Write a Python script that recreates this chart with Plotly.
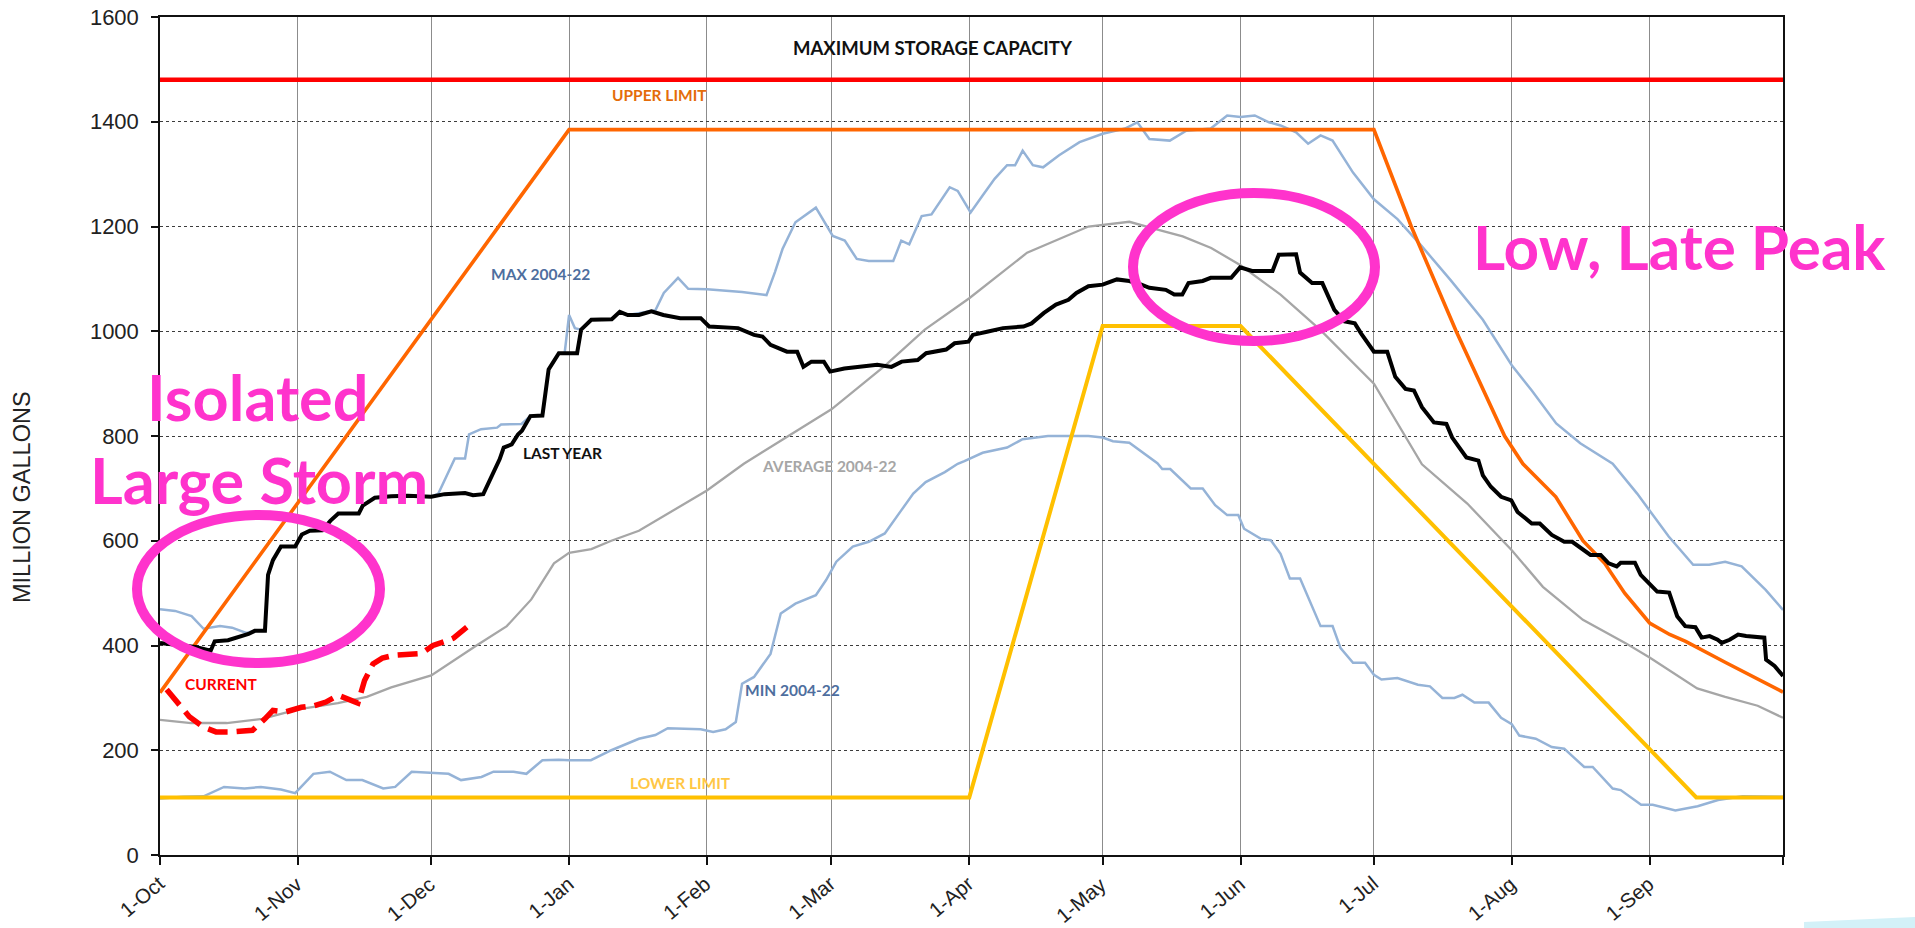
import plotly.graph_objects as go
from datetime import datetime, timedelta

# ---------------------------------------------------------------- data
WATER_YEAR_START = "2022-10-01"
WATER_YEAR_END = "2023-10-01"

tick_dates = ["2022-10-01", "2022-11-01", "2022-12-01", "2023-01-01", "2023-02-01",
              "2023-03-01", "2023-04-01", "2023-05-01", "2023-06-01", "2023-07-01",
              "2023-08-01", "2023-09-01", "2023-10-01"]
tick_labels = ["1-Oct", "1-Nov", "1-Dec", "1-Jan", "1-Feb", "1-Mar", "1-Apr",
               "1-May", "1-Jun", "1-Jul", "1-Aug", "1-Sep", ""]
y_ticks = [0, 200, 400, 600, 800, 1000, 1200, 1400, 1600]

# all "days" are days since 1-Oct
capacity_days = [0, 365]
capacity_vals = [1480, 1480]

upper_days = [0, 92, 273, 281.4, 291.5, 302.4, 306.5, 313.9, 320, 324.9, 329.4, 335,
              339.5, 343.1, 352.2, 359.6, 365]
upper_vals = [310, 1385, 1385, 1200, 1000, 800, 747, 684, 600, 557, 500, 443,
              421, 408, 367, 335, 311]

lower_days = [0, 182, 212, 243, 345.5, 365]
lower_vals = [110, 110, 1010, 1010, 110, 110]

avg_days = [0, 7, 15, 23, 31, 40, 46.5, 52, 61, 65, 71, 78, 83.5, 88.6, 92, 97, 101.5,
            107.7, 123, 131.3, 142, 151, 163, 172, 182, 195, 208.8, 212, 218, 223.5,
            230, 236.4, 243, 252, 261, 273, 283.8, 294, 304, 311, 320, 329.5, 335,
            345.7, 352, 359.3, 365]
avg_vals = [258, 252, 252, 260, 278, 290, 302, 320, 343, 366, 399, 437, 488, 557, 577,
            584, 600, 619, 696, 747, 803, 851, 934, 1003, 1063, 1150, 1200, 1203, 1209,
            1196, 1181, 1159, 1126, 1070, 1002, 900, 746, 671, 582, 512, 449, 405, 377,
            318, 302, 285, 262]

max_days = [0, 3.4, 7.1, 9.8, 13.5, 16.2, 19.4, 21.3, 23.6, 24.3,
            25.4, 27.2, 30.4, 31.9, 33.7, 36.5, 38.3, 40.1, 44.7, 45.6,
            48.3, 52, 55.7, 61, 62.6, 65.8, 66.3, 68.6, 69.5, 72.2,
            75.8, 76.7, 81.3, 83.3, 86, 87.4, 89.7, 91, 92, 93.3,
            94.7, 97, 101.6, 103.4, 105.2, 108, 111.4, 113.3, 116.5, 118.8,
            123, 130.9, 136.4, 138.3, 140, 142.9, 147.5, 151.3, 154, 156.7,
            159.4, 164.9, 166.7, 168.5, 171.3, 173.5, 177.6, 179.4, 182.3, 185,
            187.7, 190.5, 192.3, 194, 196.3, 198.6, 202.2, 206.8, 212, 217,
            219.8, 222.5, 227.1, 230.8, 236.3, 240, 243, 246.2, 249.4, 252,
            255.5, 258.2, 261, 263.7, 268.3, 273, 278.3, 283.8, 290.2, 297.5,
            304, 308.5, 314, 319.4, 326.7, 332.2, 335, 339.3, 344.8, 348.4,
            352, 355.7, 361.1, 365]
max_vals = [469, 466, 456, 432, 437, 434, 424, 428, 428, 535,
            563, 589, 589, 612, 619, 620, 638, 652, 652, 667,
            682, 685, 686, 684, 690, 748, 757, 757, 803, 813,
            816, 822, 823, 838, 839, 927, 958, 958, 1031, 1006,
            1003, 1022, 1023, 1037, 1031, 1035, 1040, 1073, 1102, 1081,
            1080, 1075, 1069, 1113, 1157, 1208, 1236, 1182, 1173, 1138,
            1134, 1134, 1173, 1166, 1220, 1223, 1275, 1268, 1227, 1259,
            1291, 1317, 1317, 1345, 1317, 1313, 1336, 1361, 1377, 1387,
            1399, 1367, 1364, 1383, 1387, 1412, 1409, 1412, 1399, 1393,
            1380, 1358, 1374, 1364, 1303, 1252, 1214, 1162, 1098, 1022,
            935, 887, 824, 786, 747, 690, 658, 608, 554, 554,
            560, 551, 506, 468]

min_days = [0, 5.2, 9.8, 14.4, 19, 22.7, 27.2, 30.4, 34.5, 38.2,
            41.9, 45.5, 50.2, 52.9, 56.6, 61, 64.9, 67.7, 72.3, 75,
            79.5, 82.4, 86, 89.7, 92, 96.9, 101.5, 107.7, 111.4, 114.2,
            121.6, 124.4, 127.2, 129.5, 130.9, 133.6, 137.3, 139.6, 142.9, 147.5,
            149.8, 152.1, 155.8, 159.4, 163, 166.7, 169.4, 172.2, 176.5, 179.4,
            180.9, 185, 190.5, 194, 199.7, 205, 208.8, 212, 214.3, 218,
            221.7, 224.3, 225.4, 227.2, 231.8, 234.5, 237.3, 240, 242.5, 243.8,
            247.5, 249.8, 252, 254.1, 256.4, 261, 263.7, 265.5, 268.3, 271,
            273, 274.7, 278.3, 282.9, 285.6, 288.4, 291.1, 292.9, 295.6, 298.8,
            301.6, 304, 305.7, 309.4, 313, 315.8, 320.3, 322.2, 326.7, 328.5,
            333.1, 335.7, 340.8, 345.8, 350.4, 355.9, 365]
min_vals = [108, 111, 112, 130, 127, 130, 125, 118, 155, 159,
            143, 143, 127, 130, 159, 157, 155, 143, 149, 159,
            159, 155, 181, 182, 181, 181, 200, 222, 229, 242,
            240, 235, 240, 254, 327, 340, 384, 461, 480, 496,
            525, 560, 589, 598, 614, 658, 690, 712, 731, 747,
            752, 768, 778, 794, 800, 800, 800, 797, 790, 787,
            765, 748, 737, 737, 700, 700, 668, 649, 649, 623,
            604, 601, 575, 528, 528, 437, 437, 395, 367, 367,
            344, 335, 338, 325, 322, 300, 300, 306, 291, 291,
            262, 250, 228, 222, 206, 203, 168, 168, 127, 124,
            96, 96, 85, 93, 105, 112, 111]

last_year_days = [0, 4.3, 8, 11.4, 12.3, 15.3, 17.2, 19.9, 21.3, 23.6,
                  24.3, 25.4, 27.2, 30.4, 31.9, 33.7, 36.5, 38.3, 40.1, 44.7,
                  45.6, 48.3, 52, 55.7, 61, 64, 68.6, 70.4, 72.7, 74.1,
                  75.9, 76.4, 77.3, 79.1, 80.5, 81.4, 83.3, 86, 87.4, 89.7,
                  93.8, 94.7, 97, 101.6, 103.4, 105.2, 107.7, 110.5, 113.2, 117,
                  121.6, 123.5, 130, 133.6, 135.5, 137.3, 141, 143.3, 144.7, 146.5,
                  149.3, 150.7, 153.9, 158.5, 161.3, 164.5, 166.8, 170.4, 172.3, 176.8,
                  178.7, 181.8, 182.8, 186, 189.6, 194.2, 196, 198.8, 201.5, 204.3,
                  206.1, 208.8, 212, 215.2, 218, 220.7, 222.5, 226.2, 228.1, 229.9,
                  231.3, 234.5, 236.3, 240.9, 242.9, 245.6, 250.2, 251.6, 255.5, 256.4,
                  259.1, 261.4, 264.1, 266.4, 268.7, 270.1, 273, 276, 277.8, 280.1,
                  282, 283.8, 286.5, 289.3, 290.6, 293.8, 296.5, 297.5, 299.3, 301.6,
                  303.9, 305.3, 308.5, 310.3, 313, 315.8, 317.6, 321.7, 324, 325.8,
                  327.6, 328.5, 331.7, 333, 335.3, 336.7, 339.4, 341.2, 343, 345.3,
                  346.7, 348.5, 350.3, 351.2, 353, 354.9, 356.7, 360.8, 361.2, 363.1,
                  365]
last_year_vals = [405, 400, 397, 390, 408, 410, 415, 422, 428, 428,
                  535, 563, 589, 589, 612, 619, 620, 638, 652, 652,
                  667, 682, 685, 686, 684, 689, 691, 687, 689, 715,
                  747, 756, 778, 784, 803, 810, 838, 839, 927, 958,
                  958, 1003, 1022, 1023, 1037, 1031, 1031, 1038, 1031, 1025,
                  1025, 1009, 1006, 993, 990, 974, 961, 961, 932, 942,
                  942, 923, 929, 934, 936, 932, 942, 945, 958, 965,
                  977, 980, 993, 999, 1006, 1009, 1015, 1035, 1051, 1060,
                  1073, 1086, 1089, 1099, 1096, 1089, 1083, 1079, 1070, 1070,
                  1092, 1096, 1102, 1102, 1122, 1115, 1115, 1146, 1147, 1112,
                  1092, 1092, 1041, 1019, 1015, 996, 961, 961, 913, 890,
                  887, 855, 826, 823, 797, 759, 753, 725, 703, 684,
                  677, 655, 633, 633, 611, 598, 598, 573, 573, 557,
                  551, 558, 558, 535, 516, 503, 501, 456, 437, 435,
                  415, 418, 411, 405, 411, 421, 418, 415, 373, 361,
                  342]

current_days = [1.5, 4.3, 6.6, 9.8, 12.6, 16.2, 20.8, 23.6, 25.4, 28.2, 31.8, 34.6,
                37.3, 40.1, 44.5, 46, 47.9, 50, 52.4, 58.8, 61.4, 64.9, 66, 69]
current_vals = [316, 289, 264, 244, 235, 235, 238, 260, 276, 273, 282, 285,
                292, 305, 290, 333, 365, 376, 381, 385, 400, 410, 414, 435]

for a, b in [(upper_days, upper_vals), (lower_days, lower_vals), (avg_days, avg_vals),
             (max_days, max_vals), (min_days, min_vals),
             (last_year_days, last_year_vals), (current_days, current_vals)]:
    assert len(a) == len(b), (len(a), len(b))

# ---------------------------------------------------------------- helpers
START = datetime.fromisoformat(WATER_YEAR_START)


def as_dates(days):
    return [START + timedelta(days=d) for d in days]


# plot-area pixel box (for annotation placement only)
W, H = 1915, 928
ML, MR, MT, MB = 160, 132, 17, 73
PL, PR, PT, PB = ML, W - MR, MT, H - MB


def px(x, y):
    return (x - PL) / (PR - PL), (PB - y) / (PB - PT)


LABEL_FONT = "Lato, 'Open Sans', sans-serif"
AXIS_FONT = "'Liberation Sans', Arial, sans-serif"
PINK = "#FF33CC"

fig = go.Figure()


def line(days, vals, color, width, name, dash=None):
    fig.add_trace(go.Scatter(
        x=as_dates(days), y=vals, mode="lines", name=name, hoverinfo="skip",
        line=dict(color=color, width=width, dash=dash)))


line(min_days, min_vals, "#95B3D7", 2.5, "MIN 2004-22")
line(max_days, max_vals, "#95B3D7", 2.5, "MAX 2004-22")
line(avg_days, avg_vals, "#A6A6A6", 2.3, "AVERAGE 2004-22")
line(lower_days, lower_vals, "#FFC000", 4, "LOWER LIMIT")
line(upper_days, upper_vals, "#FF6600", 3.6, "UPPER LIMIT")
line(capacity_days, capacity_vals, "#FF0000", 4.5, "MAXIMUM STORAGE CAPACITY")
line(last_year_days, last_year_vals, "#000000", 4, "LAST YEAR")
line(current_days, current_vals, "#FF0000", 5.5, "CURRENT", dash="20px,9px")

annotations = []


def label(text, x, y, color, size, family=LABEL_FONT, angle=0, weight=700):
    ax, ay = px(x, y)
    annotations.append(dict(
        text=text, x=ax, y=ay, xref="paper", yref="paper", showarrow=False,
        xanchor="center", yanchor="middle", textangle=angle,
        font=dict(family=family, size=size, color=color, weight=weight)))


label("MAXIMUM STORAGE CAPACITY", 933, 48, "#111111", 18.5)
label("UPPER LIMIT", 659, 95, "#E46C0A", 15.5)
label("MAX 2004-22", 540, 274, "#4E6E9E", 15.5)
label("LAST YEAR", 562, 453, "#111111", 15.5)
label("AVERAGE 2004-22", 829, 466, "#A6A6A6", 15.5)
label("CURRENT", 221, 684, "#FF0000", 15.5)
label("MIN 2004-22", 792, 690, "#4E6E9E", 15.5)
label("LOWER LIMIT", 680, 783, "#FFC745", 15.5)
label("Isolated", 258, 396, PINK, 63)
label("Large Storm", 259, 479, PINK, 63)
label("Low, Late Peak", 1679, 246, PINK, 62)
label("MILLION GALLONS", 22, 497, "#222222", 23.5, family=AXIS_FONT, angle=-90, weight=400)

# rotated month labels under the x axis (end of each label just right of its tick)
for d, t in zip(tick_dates, tick_labels):
    if not t:
        continue
    annotations.append(dict(
        text=t, x=d, y=0, xref="x", yref="paper", showarrow=False,
        xanchor="right", yanchor="top", textangle=-40, xshift=11, yshift=-14,
        font=dict(family=AXIS_FONT, size=20.5, color="#222222")))

shapes = []
for (x0, y0, x1, y1) in [(137, 515, 380, 663), (1133, 193, 1375, 341)]:
    px0, py1 = px(x0, y0)
    px1, py0 = px(x1, y1)
    shapes.append(dict(type="circle", xref="paper", yref="paper",
                       x0=px0, x1=px1, y0=py0, y1=py1,
                       line=dict(color=PINK, width=10), layer="above"))

# faint light-blue sliver at the lower right corner of the slide
sx0, sy0 = px(1804, 922)
sx1, sy1 = px(1915, 917)
sx2, sy2 = px(1915, 928)
sx3, sy3 = px(1804, 928)
shapes.append(dict(type="path", xref="paper", yref="paper",
                   path=f"M {sx0} {sy0} L {sx1} {sy1} L {sx2} {sy2} L {sx3} {sy3} Z",
                   fillcolor="#D3F1F8", line=dict(width=0), layer="above"))

fig.update_layout(
    width=W, height=H,
    margin=dict(l=ML, r=MR, t=MT, b=MB, pad=0, autoexpand=False),
    plot_bgcolor="white", paper_bgcolor="white",
    showlegend=False,
    font=dict(family=AXIS_FONT, size=22, color="#222222"),
    annotations=annotations, shapes=shapes,
    xaxis=dict(
        type="date", range=[WATER_YEAR_START, WATER_YEAR_END],
        tickmode="array", tickvals=tick_dates, ticktext=tick_labels,
        showticklabels=False,
        ticks="outside", ticklen=8, tickwidth=1.5, tickcolor="#111",
        showgrid=True, gridcolor="#8C8C8C", gridwidth=1,
        showline=True, linecolor="#111", linewidth=1.5, mirror=True,
        zeroline=False, automargin=False,
    ),
    yaxis=dict(
        range=[0, 1600], tickmode="array", tickvals=y_ticks,
        ticks="outside", ticklen=7, tickwidth=1.5, tickcolor="#111",
        showgrid=True, gridcolor="#3C3C3C", gridwidth=1, griddash="dot",
        showline=True, linecolor="#111", linewidth=1.5, mirror=True,
        zeroline=False, tickfont=dict(size=22, color="#222"),
        ticklabelstandoff=8, automargin=False,
    ),
)

fig.write_html("out.html", config={"displayModeBar": False},
               post_script="document.body.style.margin='0px';")
